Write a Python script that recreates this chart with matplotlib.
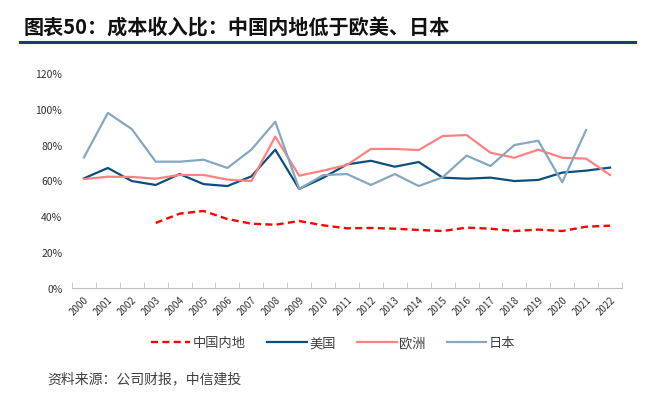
import matplotlib.pyplot as plt
import numpy as np

plt.rcParams['font.family'] = ['Noto Sans CJK SC', 'DejaVu Sans']

years = [str(y) for y in range(2000, 2023)]
china = [np.nan, np.nan, np.nan, 36.3, 41.5, 43.0, 38.5, 35.9, 35.3, 37.4, 35.0, 33.3,
         33.5, 33.1, 32.4, 31.8, 33.7, 33.1, 31.8, 32.6, 31.8, 34.2, 34.8]
usa = [61.2, 67.0, 59.7, 57.5, 63.6, 58.0, 56.9, 62.3, 77.2, 55.3, 61.5, 69.0,
       71.0, 67.7, 70.3, 61.6, 61.0, 61.6, 59.7, 60.3, 64.4, 65.5, 67.2]
europe = [60.8, 62.1, 62.0, 61.0, 63.1, 63.1, 60.5, 59.7, 84.5, 62.7, 65.5, 68.7,
          77.6, 77.6, 77.0, 84.8, 85.4, 75.5, 72.7, 77.2, 72.7, 72.2, 63.1]
japan = [72.9, 97.7, 88.7, 70.5, 70.5, 71.6, 67.0, 77.2, 92.8, 55.3, 63.0, 63.6,
         57.5, 63.6, 56.9, 61.8, 73.9, 68.1, 79.8, 82.2, 59.0, 88.2, np.nan]
names = ['中国内地', '美国', '欧洲', '日本']

fig = plt.figure(figsize=(6.55, 4.06), dpi=100)
fig.text(0.036, 0.93, '图表50：成本收入比：中国内地低于欧美、日本', fontsize=14.5,
         fontweight='bold', color='#111111', va='center')
fig.add_artist(plt.Line2D([0.03, 0.97], [0.895, 0.895], color='#1F3A6E', lw=2.2))

ax = fig.add_axes([72 / 655, 1 - 289 / 406, 550 / 655, 215 / 406])
x = np.arange(len(years))
ax.plot(x, china, color='#FF0000', lw=1.7, ls=(0, (3, 1.8)), label=names[0])
ax.plot(x, usa, color='#0B4F7C', lw=1.6, label=names[1])
ax.plot(x, europe, color='#FF8080', lw=1.6, label=names[2])
ax.plot(x, japan, color='#85A7C2', lw=1.6, label=names[3])

ax.set_xlim(-0.5, len(years) - 0.5)
ax.set_ylim(0, 120)
ax.set_yticks(range(0, 121, 20))
ax.set_yticklabels([f'{v}%' for v in range(0, 121, 20)], fontsize=7.5, color='#333333')
ax.set_xticks(x)
ax.set_xticklabels(years, rotation=45, fontsize=7, color='#333333', ha='right',
                   rotation_mode='anchor')
ax.set_xticks(np.arange(-0.5, len(years), 1), minor=True)
ax.tick_params(axis='x', which='major', length=0, pad=4)
ax.tick_params(axis='x', which='minor', length=4, color='#BFBFBF', direction='in')
ax.tick_params(axis='y', length=0, pad=7)
for s in ['top', 'right', 'left']:
    ax.spines[s].set_visible(False)
ax.spines['bottom'].set_color('#BFBFBF')

ax.legend(loc='center', bbox_to_anchor=(0.475, -0.255), ncol=4, frameon=False,
          fontsize=9.5, handlelength=3.0, columnspacing=1.6, handletextpad=0.2,
          labelcolor='#404040')

fig.text(0.073, 0.065, '资料来源：公司财报，中信建投', fontsize=10, color='#404040', va='center')

fig.savefig('out.png')
